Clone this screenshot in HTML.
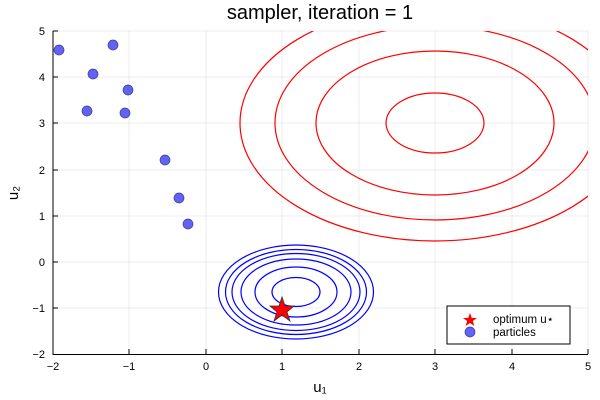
<!DOCTYPE html>
<html><head><style>body{margin:0;background:#fff}svg{display:block}</style></head><body>
<svg width="600" height="400" xmlns="http://www.w3.org/2000/svg" font-family="Liberation Sans, DejaVu Sans, sans-serif">
<defs><clipPath id="c"><rect x="53" y="31" width="535" height="323"/></clipPath></defs>
<text x="320" y="19" font-size="20" text-anchor="middle" fill="#000">sampler, iteration = 1</text>
<g stroke="#000" stroke-opacity="0.07" stroke-width="1">
<line x1="53" y1="31" x2="588" y2="31"/><line x1="53" y1="77" x2="588" y2="77"/><line x1="53" y1="123" x2="588" y2="123"/><line x1="53" y1="170" x2="588" y2="170"/><line x1="53" y1="216" x2="588" y2="216"/><line x1="53" y1="262" x2="588" y2="262"/><line x1="53" y1="308" x2="588" y2="308"/>
<line x1="129" y1="31" x2="129" y2="354"/><line x1="206" y1="31" x2="206" y2="354"/><line x1="282" y1="31" x2="282" y2="354"/><line x1="359" y1="31" x2="359" y2="354"/><line x1="435" y1="31" x2="435" y2="354"/><line x1="512" y1="31" x2="512" y2="354"/><line x1="588" y1="31" x2="588" y2="354"/>
</g>
<g clip-path="url(#c)" fill="none">
<g stroke="#f00" stroke-width="1.2">
<ellipse cx="435" cy="123" rx="49" ry="30"/><ellipse cx="435" cy="123" rx="119" ry="72"/><ellipse cx="435" cy="123" rx="160" ry="97"/><ellipse cx="435" cy="123" rx="195" ry="118"/>
</g>
<g stroke="#00f" stroke-width="1.2">
<ellipse cx="296" cy="292" rx="24" ry="14.5"/><ellipse cx="296" cy="292" rx="41" ry="25"/><ellipse cx="296" cy="292" rx="55" ry="33"/><ellipse cx="296" cy="292" rx="64" ry="38.5"/><ellipse cx="296" cy="292" rx="70.5" ry="42.5"/><ellipse cx="296" cy="292" rx="77.5" ry="47"/>
</g>
</g>
<g fill="#6262f5" stroke="#3a3a9a" stroke-width="0.7">
<circle cx="59" cy="50" r="5"/><circle cx="113" cy="45" r="5"/><circle cx="93" cy="74" r="5"/><circle cx="128" cy="90" r="5"/><circle cx="87" cy="111" r="5"/><circle cx="125" cy="113" r="5"/><circle cx="165" cy="160" r="5"/><circle cx="179" cy="198" r="5"/><circle cx="188" cy="224" r="5"/>
</g>
<polygon fill="#f00" stroke="#333" stroke-width="0.8" points="282,297 285,306 294,306 287,312 290,321 282,315 274,321 277,312 270,306 279,306"/>
<g stroke="#000" stroke-width="1">
<line x1="53" y1="31" x2="53" y2="355"/><line x1="53" y1="354.5" x2="588" y2="354.5"/>
<line x1="53" y1="31" x2="58" y2="31"/><line x1="53" y1="77" x2="58" y2="77"/><line x1="53" y1="123" x2="58" y2="123"/><line x1="53" y1="170" x2="58" y2="170"/><line x1="53" y1="216" x2="58" y2="216"/><line x1="53" y1="262" x2="58" y2="262"/><line x1="53" y1="308" x2="58" y2="308"/>
<line x1="129" y1="354" x2="129" y2="349"/><line x1="206" y1="354" x2="206" y2="349"/><line x1="282" y1="354" x2="282" y2="349"/><line x1="359" y1="354" x2="359" y2="349"/><line x1="435" y1="354" x2="435" y2="349"/><line x1="512" y1="354" x2="512" y2="349"/><line x1="588" y1="354" x2="588" y2="349"/>
</g>
<g font-size="11" fill="#000" text-anchor="end">
<text x="45" y="35">5</text><text x="45" y="81">4</text><text x="45" y="127">3</text><text x="45" y="174">2</text><text x="45" y="220">1</text><text x="45" y="266">0</text><text x="45" y="312">−1</text><text x="45" y="358">−2</text>
</g>
<g font-size="11" fill="#000" text-anchor="middle">
<text x="53" y="370">−2</text><text x="129" y="370">−1</text><text x="206" y="370">0</text><text x="282" y="370">1</text><text x="359" y="370">2</text><text x="435" y="370">3</text><text x="512" y="370">4</text><text x="588" y="370">5</text>
</g>
<text x="320" y="392" font-size="15" text-anchor="middle">u₁</text>
<text x="18" y="193" font-size="15" text-anchor="middle" transform="rotate(-90 18 193)">u₂</text>
<rect x="447" y="306" width="123" height="38" fill="#fff" stroke="#000" stroke-width="1"/>
<polygon fill="#f00" points="470,313 471.8,318 477,318 472.8,321 474.4,326 470,323 465.6,326 467.2,321 463,318 468.2,318"/>
<circle cx="470" cy="332" r="5" fill="#6262f5" stroke="#3a3a9a" stroke-width="0.7"/>
<text x="493" y="323" font-size="11.5">optimum u⋆</text>
<text x="493" y="336" font-size="11.5">particles</text>
</svg>
</body></html>
